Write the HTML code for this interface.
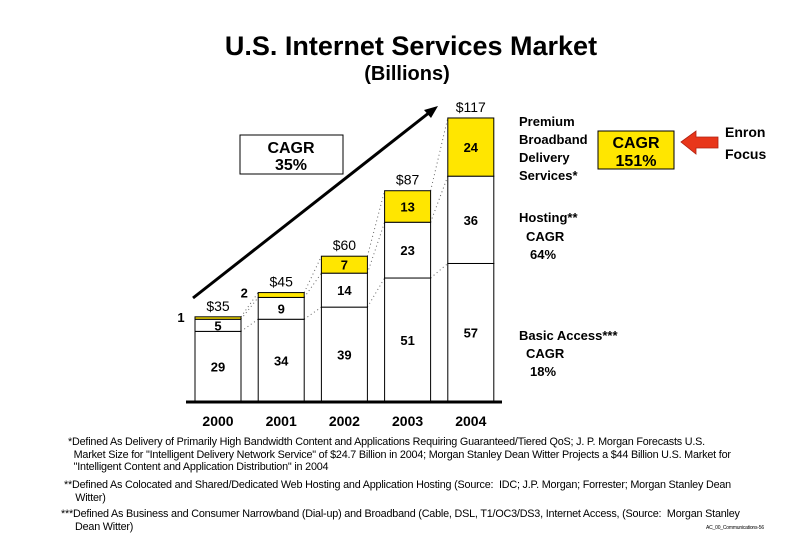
<!DOCTYPE html>
<html><head><meta charset="utf-8">
<style>
html,body{margin:0;padding:0;background:#fff;}
body{width:810px;height:540px;overflow:hidden;position:relative;font-family:"Liberation Sans",Arial,sans-serif;}
.fn{position:absolute;font-size:10.8px;line-height:12.5px;color:#000;white-space:nowrap;letter-spacing:-0.2px;}
</style></head>
<body>
<svg id="chart" width="810" height="540" style="position:absolute;left:0;top:0" xmlns="http://www.w3.org/2000/svg" font-family="Liberation Sans, Arial, sans-serif">
  <text x="411" y="55" text-anchor="middle" font-size="27" font-weight="bold">U.S. Internet Services Market</text>
  <text x="407" y="80" text-anchor="middle" font-size="20" font-weight="bold">(Billions)</text>
  <g id="connectors"></g>
  <g id="bars"></g>
  <line x1="186" y1="402" x2="502" y2="402" stroke="#000" stroke-width="3"/>
  <g id="xlabels"></g>
  <g>
    <line x1="193" y1="298" x2="430" y2="112" stroke="#000" stroke-width="3"/>
    <polygon points="438,106 424,110 431,118" fill="#000"/>
  </g>
  <g>
    <rect x="240" y="135" width="103" height="39" fill="#fff" stroke="#000" stroke-width="1"/>
    <text x="291" y="153" text-anchor="middle" font-size="16" font-weight="bold">CAGR</text>
    <text x="291" y="170" text-anchor="middle" font-size="16" font-weight="bold">35%</text>
  </g>
  <g font-size="13" font-weight="bold">
    <text x="519" y="126">Premium</text>
    <text x="519" y="144">Broadband</text>
    <text x="519" y="162">Delivery</text>
    <text x="519" y="180">Services*</text>
  </g>
  <g>
    <rect x="598" y="131" width="76" height="38" fill="#FFE600" stroke="#000" stroke-width="1"/>
    <text x="636" y="148" text-anchor="middle" font-size="16" font-weight="bold">CAGR</text>
    <text x="636" y="166" text-anchor="middle" font-size="16" font-weight="bold">151%</text>
  </g>
  <g>
    <polygon points="681,142 696,131 696,137 718,137 718,148 696,148 696,154" fill="#E8361A" stroke="#b02010" stroke-width="0.8"/>
  </g>
  <g font-size="14" font-weight="bold">
    <text x="725" y="137">Enron</text>
    <text x="725" y="159">Focus</text>
  </g>
  <g font-size="13" font-weight="bold">
    <text x="519" y="222">Hosting**</text>
    <text x="526" y="241">CAGR</text>
    <text x="530" y="259">64%</text>
  </g>
  <g font-size="13" font-weight="bold">
    <text x="519" y="340">Basic Access***</text>
    <text x="526" y="358">CAGR</text>
    <text x="530" y="376">18%</text>
  </g>
</svg>
<div class="fn" style="left:68px;top:436px;">*Defined As Delivery of Primarily High Bandwidth Content and Applications Requiring Guaranteed/Tiered QoS; J. P. Morgan Forecasts U.S.<br>&nbsp;&nbsp;Market Size for "Intelligent Delivery Network Service" of $24.7 Billion in 2004; Morgan Stanley Dean Witter Projects a $44 Billion U.S. Market for<br>&nbsp;&nbsp;"Intelligent Content and Application Distribution" in 2004</div>
<div class="fn" style="left:64px;top:479px;">**Defined As Colocated and Shared/Dedicated Web Hosting and Application Hosting (Source:&nbsp; IDC; J.P. Morgan; Forrester; Morgan Stanley Dean<br>&nbsp;&nbsp;&nbsp;&nbsp;Witter)</div>
<div class="fn" style="left:61px;top:508px;">***Defined As Business and Consumer Narrowband (Dial-up) and Broadband (Cable, DSL, T1/OC3/DS3, Internet Access, (Source:&nbsp; Morgan Stanley<br>&nbsp;&nbsp;&nbsp;&nbsp;&nbsp;Dean Witter)</div>
<div class="fn" style="left:706px;top:522px;font-size:5px;">AC_00_Communications-56</div>
<script>
const years = ["2000","2001","2002","2003","2004"];
const basic = [29,34,39,51,57];
const hosting = [5,9,14,23,36];
const premium = [1,2,7,13,24];
const totals = ["$35","$45","$60","$87","$117"];

const NS = "http://www.w3.org/2000/svg";
const baseY = 401.7, scale = 2.425, x0 = 195, step = 63.2, bw = 46;
function yPos(v){ return baseY - v*scale; }
function xPos(i){ return x0 + i*step; }
function mk(tag, attrs, parent){
  const e = document.createElementNS(NS, tag);
  for (const k in attrs) e.setAttribute(k, attrs[k]);
  parent.appendChild(e); return e;
}
const gb = document.getElementById('bars');
const gc = document.getElementById('connectors');
const gx = document.getElementById('xlabels');
years.forEach((yr,i)=>{
  const x = xPos(i);
  const b = basic[i], h = hosting[i], p = premium[i];
  const segs = [[0,b,"#fff",b,"basic"],[b,b+h,"#fff",h,"hosting"],[b+h,b+h+p,"#FFE600",p,"premium"]];
  segs.forEach(s=>{
    const r = mk('rect',{x:x,y:yPos(s[1]),width:bw,height:yPos(s[0])-yPos(s[1]),fill:s[2],stroke:"#000","stroke-width":1},gb);
    
    
    const small = s[4]==="premium" && (s[1]-s[0])*scale < 10;
    let tx = x+bw/2, ty = (yPos(s[0])+yPos(s[1]))/2+5;
    if (small){ tx = x-14; ty = yPos(s[1])+5; }
    const t = mk('text',{x:tx,y:ty,"text-anchor":"middle","font-size":13,"font-weight":"bold"},gb);
    t.textContent = s[3];
    
    
  });
  const tot = b+h+p;
  const tl = mk('text',{x:x+bw/2,y:yPos(tot)-6,"text-anchor":"middle","font-size":14},gb);
  tl.textContent = totals[i];
  
  
  const xl = mk('text',{x:x+bw/2,y:426,"text-anchor":"middle","font-size":14,"font-weight":"bold"},gx);
  xl.textContent = yr;
  
  
  if (i < years.length-1){
    const nb = basic[i+1], nh = hosting[i+1], np = premium[i+1];
    [[b,nb],[b+h,nb+nh],[tot,nb+nh+np]].forEach(pr=>{
      const l = mk('line',{x1:x+bw,y1:yPos(pr[0]),x2:xPos(i+1),y2:yPos(pr[1]),stroke:"#666","stroke-width":1,"stroke-dasharray":"1,3"},gc);
      
      
    });
  }
});
</script>
</body></html>
